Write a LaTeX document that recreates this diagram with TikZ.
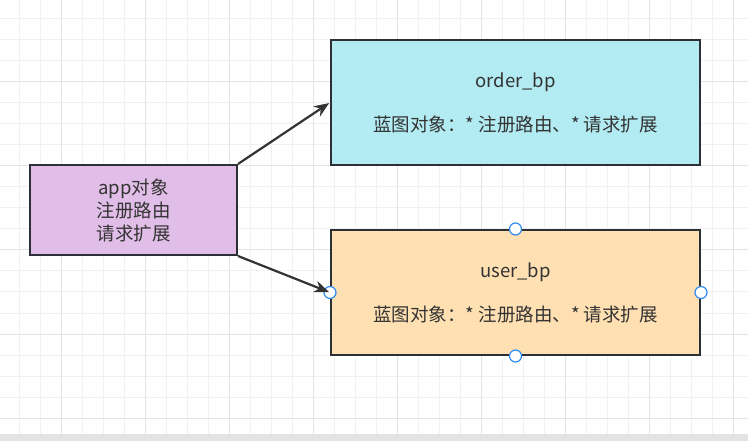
\documentclass[tikz,border=0pt]{standalone}
\usepackage{fontspec}
\setmainfont{Noto Sans CJK SC}
\usepackage{tikz}
\usetikzlibrary{arrows.meta, positioning}
\usepackage{xcolor}

\definecolor{gridminor}{HTML}{F1F1F1}
\definecolor{gridmajor}{HTML}{E4E4E4}
\definecolor{bargray}{HTML}{E3E3E3}
\definecolor{inkdark}{HTML}{333333}
\definecolor{boxline}{HTML}{2B3036}
\definecolor{appfill}{HTML}{E1BEE7}
\definecolor{orderfill}{HTML}{B2EBF2}
\definecolor{userfill}{HTML}{FFE0B2}
\definecolor{handleblue}{HTML}{2F8CF0}

\begin{document}
\begin{tikzpicture}[
    x=1pt, y=-1pt,
    >={Stealth[length=15pt, width=12pt]},
    every node/.style={font=\fontsize{18.5}{23}\selectfont, text=inkdark},
    box/.style={rectangle, draw=boxline, line width=2pt, align=center, inner sep=0pt},
    handle/.style={circle, draw=handleblue, fill=white, line width=1.2pt, minimum size=12pt, inner sep=0pt},
    link/.style={->, draw=inkdark, line width=2.2pt, shorten >=1pt}
  ]

  \useasboundingbox (0,0) rectangle (748,441);

  % grid
  \foreach \gx in {19,40,...,748} {
    \draw[gridminor, line width=1pt] (\gx,0) -- (\gx,434);
  }
  \foreach \gy in {19,40,...,434} {
    \draw[gridminor, line width=1pt] (0,\gy) -- (748,\gy);
  }
  \foreach \gx in {61,145,...,748} {
    \draw[gridmajor, line width=1pt] (\gx,0) -- (\gx,434);
  }
  \foreach \gy in {82,166,...,434} {
    \draw[gridmajor, line width=1pt] (0,\gy) -- (748,\gy);
  }
  \fill[bargray] (0,434) rectangle (748,441);

  \node[box, fill=appfill, minimum width=207pt, minimum height=90pt] (app) at (133.5,210) {
    app对象\\
    注册路由\\
    请求扩展
  };

  \node[box, fill=orderfill, minimum width=369pt, minimum height=125pt] (order) at (515.5,102.5) {
    order\_bp\\[21pt]
    蓝图对象：* 注册路由、* 请求扩展
  };

  \node[box, fill=userfill, minimum width=369pt, minimum height=125pt, below=63pt of order] (user) {
    user\_bp\\[21pt]
    蓝图对象：* 注册路由、* 请求扩展
  };

  % selection handles
  \node[handle] (hn) at (user.north) {};
  \node[handle] (hs) at (user.south) {};
  \node[handle] (hw) at (user.west) {};
  \node[handle] (he) at (user.east) {};

  \draw[link] (app.north east) -- (order.west);
  \draw[link] (app.south east) -- (hw.center);

  \end{tikzpicture}
\end{document}
